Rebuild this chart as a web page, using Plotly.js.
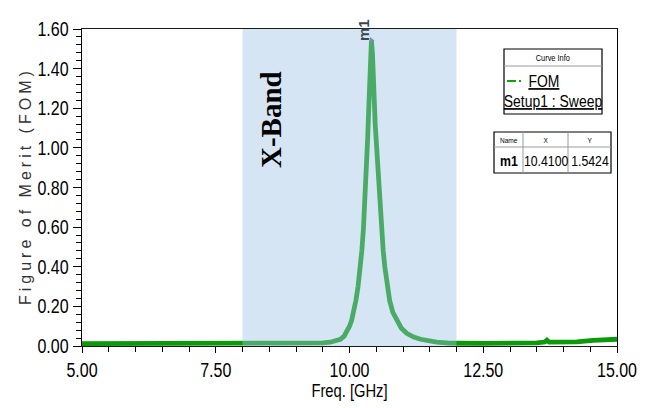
<!DOCTYPE html>
<html>
<head>
<meta charset="utf-8">
<script src="https://cdn.plot.ly/plotly-3.0.1.min.js"></script>
<style>
  html, body { margin: 0; padding: 0; background: #fff; }
  #chart { width: 646px; height: 408px; }
  .annotation.spaced text { letter-spacing: 4px; }
  .annotation.narrow text { transform-box: fill-box; transform-origin: center; transform: scaleX(0.82); }
</style>
</head>
<body>
<div id="chart"></div>
<script>
// ---- data ----
const freqGHz = [5.00, 6.00, 7.00, 8.00, 8.50, 9.00, 9.26, 9.50, 9.64, 9.75, 9.83, 9.90, 9.95, 10.00,
  10.04, 10.08, 10.12, 10.16, 10.20, 10.23, 10.26, 10.28, 10.30, 10.32, 10.34, 10.36, 10.38, 10.40,
  10.41, 10.43, 10.45, 10.48, 10.52, 10.55, 10.58, 10.60, 10.63, 10.66, 10.70, 10.75, 10.81, 10.88,
  10.97, 11.07, 11.20, 11.33, 11.50, 11.63, 11.87, 12.00, 12.07, 12.50, 13.00, 13.50, 13.65, 13.69,
  13.73, 13.80, 14.25, 14.55, 15.00];
const fom = [0.012, 0.012, 0.012, 0.012, 0.012, 0.013, 0.014, 0.016, 0.019, 0.025, 0.034, 0.050, 0.072, 0.100,
  0.13, 0.175, 0.23, 0.30, 0.38, 0.48, 0.59, 0.68, 0.79, 0.92, 1.05, 1.20, 1.33, 1.48,
  1.5424, 1.47, 1.30, 1.12, 0.95, 0.80, 0.68, 0.59, 0.48, 0.40, 0.31, 0.23, 0.17, 0.13,
  0.09, 0.064, 0.045, 0.034, 0.025, 0.020, 0.015, 0.013, 0.014, 0.013, 0.013, 0.016, 0.020, 0.029,
  0.020, 0.020, 0.021, 0.028, 0.034];
const xTickVals = [5, 7.5, 10, 12.5, 15];
const xTickText = ['5.00', '7.50', '10.00', '12.50', '15.00'];
const yTickVals = [0, 0.2, 0.4, 0.6, 0.8, 1.0, 1.2, 1.4, 1.6];
const yTickText = ['0.00', '0.20', '0.40', '0.60', '0.80', '1.00', '1.20', '1.40', '1.60'];
const bandRange = [8, 12];
const bandLabel = 'X-Band';
const seriesName = 'FOM';
const setupName = 'Setup1 : Sweep';
const markerName = 'm1';
const markerX = 10.41;
const markerY = 1.5424;
const tableHeader = ['Name', 'X', 'Y'];
const tableRow = [markerName, markerX.toFixed(4), markerY.toFixed(4)];
const yTitle = 'Figure of Merit (FOM)';
const xTitle = 'Freq. [GHz]';

// ---- layout helpers (pixel -> paper) ----
const L = 82, R = 617, T = 29, B = 346;
const px = p => (p - L) / (R - L);
const py = p => (B - p) / (B - T);
const sans = 'Liberation Sans, Arial, sans-serif';

const traces = [
  { x: freqGHz, y: fom, type: 'scatter', mode: 'lines', name: seriesName,
    line: { color: '#0a9a0a', width: 4.8 }, hoverinfo: 'skip' },
  { x: [markerX], y: [markerY], type: 'scatter', mode: 'markers', showlegend: false,
    marker: { symbol: 'triangle-right', size: 6, color: '#5a6675' }, hoverinfo: 'skip' }
];

const shapes = [
  // X band highlight (drawn above the line, semi-transparent)
  { type: 'rect', xref: 'x', yref: 'y', x0: bandRange[0], x1: bandRange[1], y0: 0, y1: 1.6,
    fillcolor: 'rgba(160,195,227,0.43)', line: { width: 0 }, layer: 'above' },
  // Curve info box
  { type: 'rect', xref: 'paper', yref: 'paper', x0: px(504), x1: px(602), y0: py(114), y1: py(49),
    fillcolor: '#fff', line: { color: '#000', width: 1.2 }, layer: 'above' },
  { type: 'line', xref: 'paper', yref: 'paper', x0: px(504), x1: px(602), y0: py(66), y1: py(66),
    line: { color: '#9a9a9a', width: 1 }, layer: 'above' },
  { type: 'line', xref: 'paper', yref: 'paper', x0: px(507), x1: px(516), y0: py(81), y1: py(81),
    line: { color: '#10a010', width: 2 }, layer: 'above' },
  { type: 'line', xref: 'paper', yref: 'paper', x0: px(519), x1: px(521), y0: py(81), y1: py(81),
    line: { color: '#10a010', width: 2 }, layer: 'above' },
  // marker table
  { type: 'rect', xref: 'paper', yref: 'paper', x0: px(494), x1: px(611), y0: py(173), y1: py(132),
    fillcolor: '#fff', line: { color: '#000', width: 1.2 }, layer: 'above' },
  { type: 'line', xref: 'paper', yref: 'paper', x0: px(494), x1: px(611), y0: py(147), y1: py(147),
    line: { color: '#9a9a9a', width: 1 }, layer: 'above' },
  { type: 'line', xref: 'paper', yref: 'paper', x0: px(523), x1: px(523), y0: py(173), y1: py(132),
    line: { color: '#9a9a9a', width: 1 }, layer: 'above' },
  { type: 'line', xref: 'paper', yref: 'paper', x0: px(568), x1: px(568), y0: py(173), y1: py(132),
    line: { color: '#9a9a9a', width: 1 }, layer: 'above' }
];

const colCenters = [508.5, 545.5, 589.5];
const ann = (o) => Object.assign({ showarrow: false, xanchor: 'center', yanchor: 'middle' }, o);
const annotations = [
  ann({ text: '<b>' + bandLabel + '</b>', xref: 'paper', yref: 'paper', x: px(271), y: py(120),
    textangle: -90, font: { family: 'Liberation Serif, Times New Roman, serif', size: 29, color: '#000' } }),
  ann({ text: '<b>' + markerName + '</b>', xref: 'paper', yref: 'paper', x: px(364), y: py(30),
    textangle: -90, font: { family: sans, size: 15, color: '#3a4654' } }),
  ann({ text: yTitle, xref: 'paper', yref: 'paper', x: px(25), y: py(186),
    textangle: -90, font: { family: sans, size: 16, color: '#333' } }),
  ann({ text: 'Curve Info', xref: 'paper', yref: 'paper', x: px(553), y: py(58),
    font: { family: sans, size: 9, color: '#000' } }),
  ann({ text: '<u>' + seriesName + '</u>', xref: 'paper', yref: 'paper', x: px(544), y: py(81),
    font: { family: sans, size: 17, color: '#000' } }),
  ann({ text: '<u>' + setupName + '</u>', xref: 'paper', yref: 'paper', x: px(553), y: py(101),
    font: { family: sans, size: 17, color: '#000' } })
];
tableHeader.forEach((h, i) => annotations.push(ann({ text: h, xref: 'paper', yref: 'paper', x: px(colCenters[i]), y: py(140),
  font: { family: sans, size: 8, color: '#000' } })));
tableRow.forEach((v, i) => annotations.push(ann({ text: i === 0 ? '<b>' + v + '</b>' : v, xref: 'paper', yref: 'paper',
  x: px(colCenters[i]), y: py(160), font: { family: sans, size: 15, color: '#000' } })));

const layout = {
  width: 646, height: 408,
  margin: { l: L, r: 646 - R, t: T, b: 408 - B },
  paper_bgcolor: '#fff', plot_bgcolor: '#fff',
  showlegend: false,
  xaxis: {
    range: [5, 15], tickvals: xTickVals, ticktext: xTickText,
    ticks: 'outside', ticklen: 6, tickwidth: 1, tickcolor: '#000',
    minor: { dtick: 0.5, ticks: 'outside', ticklen: 5, tickcolor: '#000' },
    showline: true, linecolor: '#1a1a1a', linewidth: 1.4, mirror: true,
    showgrid: false, zeroline: false,
    tickfont: { family: sans, size: 20, color: '#000' },
    title: { text: xTitle, font: { family: sans, size: 18, color: '#000' }, standoff: 4 }
  },
  yaxis: {
    range: [0, 1.6], tickvals: yTickVals, ticktext: yTickText,
    ticks: 'outside', ticklen: 8, tickwidth: 1, tickcolor: '#000',
    minor: { dtick: 0.04, ticks: 'outside', ticklen: 5, tickcolor: '#000' },
    showline: true, linecolor: '#000', linewidth: 1.4, mirror: true,
    showgrid: false, zeroline: false,
    tickfont: { family: sans, size: 20, color: '#000' }
  },
  shapes: shapes,
  annotations: annotations
};

function condense(el, k) {
  const x = parseFloat(el.getAttribute('x')) || 0;
  const cur = el.getAttribute('transform') || '';
  el.setAttribute('transform', cur + ' translate(' + x + ',0) scale(' + k + ',1) translate(' + (-x) + ',0)');
}

Plotly.newPlot('chart', traces, layout, { displayModeBar: false, staticPlot: true }).then(() => {
  document.querySelectorAll('.annotation').forEach(g => {
    const idx = +g.getAttribute('data-index');
    if (idx === 2) g.classList.add('spaced');
    if (idx >= 3) g.classList.add('narrow');
  });
  document.querySelectorAll('.xtick text, .ytick text').forEach(t => condense(t, 0.8));
  document.querySelectorAll('.xtitle').forEach(t => condense(t, 0.82));
});
</script>
</body>
</html>
